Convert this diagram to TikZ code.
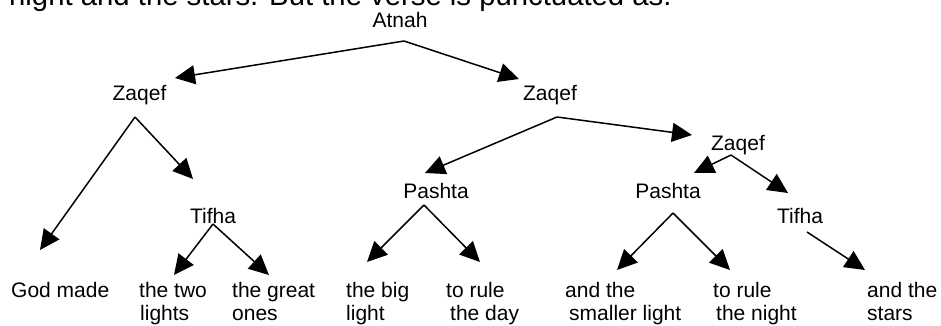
\documentclass[tikz,border=0pt]{standalone}
\usepackage{fontspec}
\setmainfont{Liberation Sans}
\usetikzlibrary{arrows.meta}
\begin{document}
\begin{tikzpicture}[x=1pt,y=-1pt,
  lbl/.style={inner sep=0pt,anchor=base,font=\fontsize{21}{23}\selectfont},
  leaf/.style={inner sep=0pt,anchor=base west,align=left,font=\fontsize{21}{23}\selectfont},
  arr/.style={line width=1.5pt,-{Triangle[length=20pt,width=19pt]}}]
\useasboundingbox (0,0) rectangle (941,325);
% tail of the sentence running above the tree
\begin{scope}
  \clip (0,0) rectangle (941,325);
  \node[inner sep=0pt,anchor=base west,font=\fontsize{29.3}{31}\selectfont] (intro) at (9,5)
    {night and the stars. But the verse is punctuated as:};
\end{scope}
% accent names
\node[lbl] (atnah)   at (400,27)  {Atnah};
\node[lbl] (zaqefL)  at (139.5,100) {Zaqef};
\node[lbl] (zaqefM)  at (550,100) {Zaqef};
\node[lbl] (zaqefR)  at (738,150) {Zaqef};
\node[lbl] (pashtaM) at (436,198) {Pashta};
\node[lbl] (pashtaR) at (668,198) {Pashta};
\node[lbl] (tifhaL)  at (213,223) {Tifha};
\node[lbl] (tifhaR)  at (800,223) {Tifha};
% words of the verse (base anchor sits on the last line)
\node[leaf] (w1) at (11,297)  {God made};
\node[leaf] (w2) at (139,320) {the two\\\hspace*{1pt}lights};
\node[leaf] (w3) at (232,320) {the great\\ones};
\node[leaf] (w4) at (346,320) {the big\\light};
\node[leaf] (w5) at (446,320) {to rule\\\hspace*{4pt}the day};
\node[leaf] (w6) at (565,320) {and the\\\hspace*{4pt}smaller light};
\node[leaf] (w7) at (713,320) {to rule\\\hspace*{3pt}the night};
\node[leaf] (w8) at (867,320) {and the\\stars};
% branch points and arrow tips
\coordinate (atnahFoot) at (404,41);
\coordinate (toZaqefL)  at (175,78);
\coordinate (toZaqefM)  at (519,79);
\coordinate (zaqefLFoot) at (135,117);
\coordinate (toW1)      at (40,250);
\coordinate (toTifhaL)  at (193,179);
\coordinate (zaqefMFoot) at (557,117);
\coordinate (toPashtaM) at (425,173);
\coordinate (toZaqefR)  at (692,135);
\coordinate (tifhaLFoot) at (213,224);
\coordinate (toW2)      at (174,275);
\coordinate (toW3)      at (269,275);
\coordinate (pashtaMFoot) at (424,205);
\coordinate (toW4)      at (367,262);
\coordinate (toW5)      at (480,262);
\coordinate (zaqefRFoot) at (731,155);
\coordinate (toPashtaR) at (694,173);
\coordinate (toTifhaR)  at (788,193);
\coordinate (pashtaRFoot) at (673,213);
\coordinate (toW6)      at (617,270);
\coordinate (toW7)      at (730,270);
\coordinate (tifhaRFoot) at (807,232);
\coordinate (toW8)      at (865,270);
% arrows
\draw[arr] (atnahFoot) -- (toZaqefL);
\draw[arr] (atnahFoot) -- (toZaqefM);
\draw[arr] (zaqefLFoot) -- (toW1);
\draw[arr] (zaqefLFoot) -- (toTifhaL);
\draw[arr] (zaqefMFoot) -- (toPashtaM);
\draw[arr] (zaqefMFoot) -- (toZaqefR);
\draw[arr] (tifhaLFoot) -- (toW2);
\draw[arr] (tifhaLFoot) -- (toW3);
\draw[arr] (pashtaMFoot) -- (toW4);
\draw[arr] (pashtaMFoot) -- (toW5);
\draw[arr] (zaqefRFoot) -- (toPashtaR);
\draw[arr] (zaqefRFoot) -- (toTifhaR);
\draw[arr] (pashtaRFoot) -- (toW6);
\draw[arr] (pashtaRFoot) -- (toW7);
\draw[arr] (tifhaRFoot) -- (toW8);
\end{tikzpicture}
\end{document}
